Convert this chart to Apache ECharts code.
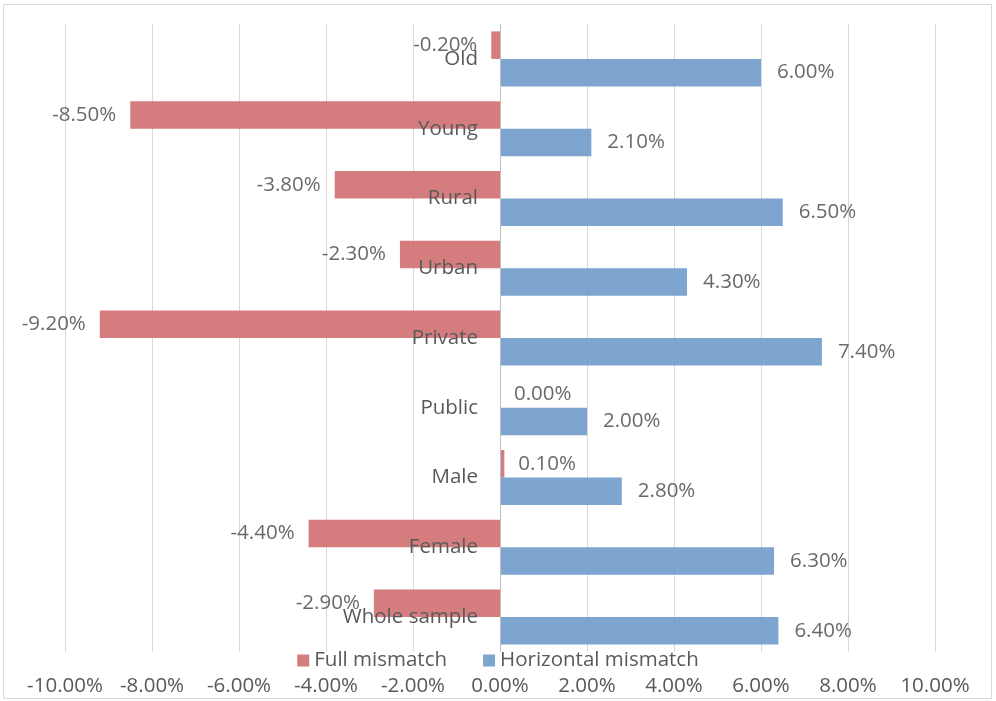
<!DOCTYPE html>
<html><head><meta charset="utf-8">
<script src="https://cdn.jsdelivr.net/npm/echarts@6/dist/echarts.min.js"></script>
<style>html,body{margin:0;padding:0;background:#fff}#c{width:996px;height:701px}</style>
</head><body><div id="c"></div>
<script>
// categories bottom to top
const categories = ['Whole sample','Female','Male','Public','Private','Urban','Rural','Young','Old'];
const fullMismatch = [-2.9,-4.4,0.1,0.0,-9.2,-2.3,-3.8,-8.5,-0.2];
const horizontalMismatch = [6.4,6.3,2.8,2.0,7.4,4.3,6.5,2.1,6.0];
const xTicks = [-10,-8,-6,-4,-2,0,2,4,6,8,10];

const font = 'Open Sans, Liberation Sans, sans-serif';
const txt = '#595959';
const fs = 20.5;
function lbl(v){ return { value: v, label: { position: v < 0 ? 'left' : 'right' } }; }
const chart = echarts.init(document.getElementById('c'));
chart.setOption({
  animation: false,
  graphic: [{type:'rect', shape:{x:3.5,y:4.5,width:988,height:694}, style:{fill:null, stroke:'#d9d9d9', lineWidth:1}}],
  grid: {left:65, right:61, top:24, bottom:49, containLabel:false, outerBoundsMode:'none'},
  legend: {bottom:25, left:'center', itemWidth:12, itemHeight:12, itemGap:36,
    icon:'rect', textStyle:{color:txt, fontSize:fs, fontFamily:font},
    data:['Full mismatch','Horizontal mismatch']},
  xAxis: {type:'value', min:xTicks[0], max:xTicks[xTicks.length-1], interval:2,
    axisLine:{show:false}, axisTick:{show:false},
    splitLine:{lineStyle:{color:'#d9d9d9'}},
    axisLabel:{color:txt, fontSize:fs, fontFamily:font, margin:24, formatter:v=>v.toFixed(2)+'%'}},
  yAxis: {type:'category', data:categories, inverse:false, z:5,
    axisLine:{onZero:true, lineStyle:{color:'#bfbfbf'}}, axisTick:{show:false},
    axisLabel:{color:txt, fontSize:fs, fontFamily:font, margin:-413}},
  series: [
    {name:'Full mismatch', type:'bar', data:fullMismatch.map(lbl), barWidth:27.5, barGap:'0%',
     itemStyle:{color:'rgb(207,110,112)', opacity:0.9},
     label:{show:true, distance:14, color:txt, fontSize:fs, fontFamily:font, formatter:p=>p.value.toFixed(2)+'%'}},
    {name:'Horizontal mismatch', type:'bar', data:horizontalMismatch.map(lbl), barWidth:27.5, barGap:'0%',
     itemStyle:{color:'rgb(112,154,203)', opacity:0.9},
     label:{show:true, distance:16, color:txt, fontSize:fs, fontFamily:font, formatter:p=>p.value.toFixed(2)+'%'}}
  ]
});
</script></body></html>
